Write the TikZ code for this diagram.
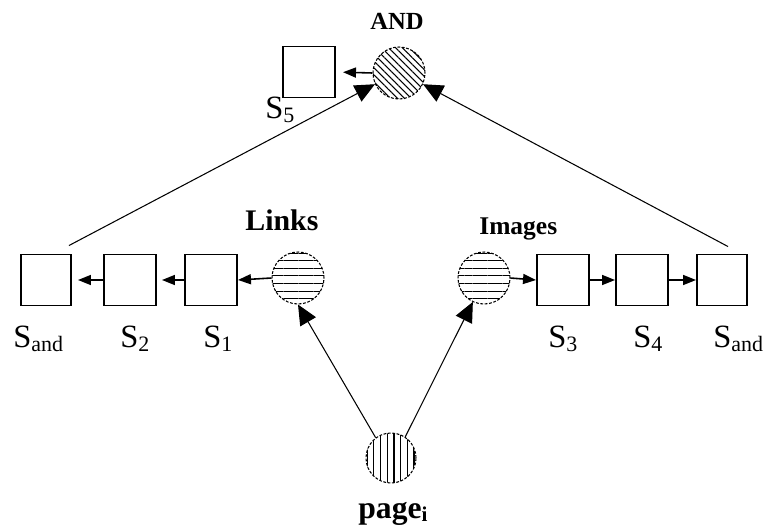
\documentclass[tikz,border=0pt]{standalone}
\usepackage{fontspec}
\setmainfont{Liberation Serif}
\usetikzlibrary{arrows.meta,patterns.meta}

% lowered index for the state names
\newcommand\stsub[1]{\raisebox{-2.5pt}{\fontsize{12.5}{13}\selectfont #1}}

\begin{document}
\begin{tikzpicture}[
		stbox/.style={draw, line width=1.1pt, minimum width=1.04cm, minimum height=1.02cm, inner sep=0pt},
		op/.style={circle, minimum size=1.04cm, inner sep=0pt, postaction={draw, line width=0.6pt, dash pattern=on 1.6pt off 0.9pt}},
		lbl/.style={anchor=base west, inner sep=0pt, font=\fontsize{18.5}{20}\selectfont},
		shortarrow/.style={-{Triangle[length=0.26cm,width=0.2cm]}, line width=0.9pt},
		longarrow/.style={-{Triangle[length=0.4cm,width=0.36cm]}, line width=0.6pt}
	]

		\useasboundingbox (0,0) rectangle (15.3,10.58);

		% AND on top, writes into S5
		\node[op, pattern={Lines[angle=-45,distance=2.8pt,line width=0.6pt]}] (and) at (7.98,9.12) {};
		\node[stbox] (sfive) at (6.18,9.14) {};
		\node[anchor=base west, inner sep=0pt, font=\fontsize{14}{16}\selectfont\bfseries] (andlbl) at (7.4,10.0) {AND};
		\node[lbl] (sfivelbl) at (5.3,8.22) {S\stsub{5}};
		\draw[shortarrow, shorten >=0.14cm] (and.west) -- (sfive.east);

		% left branch
		\node[op, pattern={Lines[angle=0,distance=4.3pt,yshift=2.1pt,line width=0.6pt]}] (links) at (5.96,5.02) {};
		\node[stbox] (sone) at (4.22,4.98) {};
		\node[stbox] (stwo) at (2.6,4.98) {};
		\node[stbox, minimum width=1cm] (sandL) at (0.92,4.98) {};
		\node[anchor=base west, inner sep=0pt, font=\fontsize{17}{19}\selectfont\bfseries] (linkslbl) at (4.9,5.98) {Links};
		\node[lbl] (sonelbl) at (4.06,3.64) {S\stsub{1}};
		\node[lbl] (stwolbl) at (2.4,3.64) {S\stsub{2}};
		\node[lbl] (sandLlbl) at (0.26,3.64) {S\stsub{and}};
		\draw[shortarrow] (links.west) -- (sone.east);
		\draw[shortarrow, shorten >=0.1cm] (sone.west) -- (stwo.east);
		\draw[shortarrow, shorten >=0.12cm] (stwo.west) -- (sandL.east);

		% right branch
		\node[op, pattern={Lines[angle=0,distance=4.3pt,yshift=2.1pt,line width=0.6pt]}] (images) at (9.68,5.02) {};
		\node[stbox] (sthree) at (11.26,4.98) {};
		\node[stbox] (sfour) at (12.84,4.98) {};
		\node[stbox, minimum width=1cm] (sandR) at (14.44,4.98) {};
		\node[anchor=base west, inner sep=0pt, font=\fontsize{14.5}{16}\selectfont\bfseries] (imageslbl) at (9.58,5.9) {Images};
		\node[lbl] (sthreelbl) at (10.96,3.64) {S\stsub{3}};
		\node[lbl] (sfourlbl) at (12.66,3.64) {S\stsub{4}};
		\node[lbl] (sandRlbl) at (14.26,3.64) {S\stsub{and}};
		\draw[shortarrow] (images.east) -- (sthree.west);
		\draw[shortarrow] (sthree.east) -- (sfour.west);
		\draw[shortarrow] (sfour.east) -- (sandR.west);

		% both ends feed the AND
		\draw[longarrow] ([xshift=-0.06cm,yshift=0.16cm]sandL.north east) -- (and.205);
		\draw[longarrow] ([xshift=0.12cm,yshift=0.14cm]sandR.north) -- (and.-25);

		% the page at the bottom
		\node[op, minimum size=1cm, pattern={Lines[angle=90,distance=3.8pt,line width=0.6pt]}] (page) at (7.82,1.42) {};
		\node[anchor=base west, inner sep=0pt, font=\fontsize{18}{20}\selectfont\bfseries] (pagelbl) at (7.16,0.22) {page\raisebox{-2pt}{\fontsize{12}{13}\selectfont i}};
		\draw[longarrow] (page.127) -- (links.south);
		\draw[longarrow] (page.56) -- (images.245);

	\end{tikzpicture}
\end{document}
